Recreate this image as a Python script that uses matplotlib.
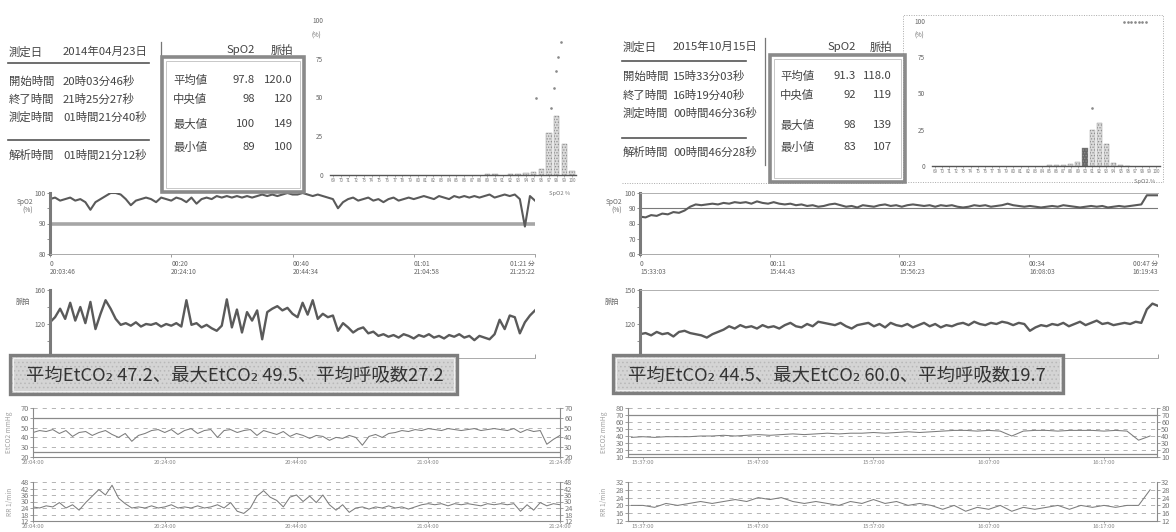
import matplotlib as mpl
import matplotlib.pyplot as plt
import numpy as np
from matplotlib.lines import Line2D
from matplotlib.patches import Rectangle

W, H = 1176, 532
JP = ["Noto Sans CJK JP", "DejaVu Sans"]
INK = "#444444"
TRACE = "#5a5a5a"

# ---- measurement header tables
INFO_LABELS = ["測定日", "開始時間", "終了時間", "測定時間", "解析時間"]
L_INFO_VALUES = ["2014年04月23日", "20時03分46秒", "21時25分27秒", "01時間21分40秒", "01時間21分12秒"]
R_INFO_VALUES = ["2015年10月15日", "15時33分03秒", "16時19分40秒", "00時間46分36秒", "00時間46分28秒"]

STAT_LABELS = ["平均値", "中央値", "最大値", "最小値"]
L_SPO2_STATS = ["97.8", "98", "100", "89"]
L_PULSE_STATS = ["120.0", "120", "149", "100"]
R_SPO2_STATS = ["91.3", "92", "98", "83"]
R_PULSE_STATS = ["118.0", "119", "139", "107"]

# ---- SpO2 distribution (%)
HIST_TICKS = list(range(69, 101))
L_HIST_BIN = [89, 90, 92, 93, 94, 95, 96, 97, 98, 99, 100]
L_HIST_PCT = [0.5, 0.8, 0.5, 0.5, 1.0, 2.0, 4.0, 27.0, 38.0, 20.0, 2.5]
L_CUM_BIN = [95.3, 97.3, 97.6, 97.9, 98.2, 98.6]
L_CUM_PCT = [50, 43, 56, 67, 76, 86]
R_HIST_BIN = [85, 86, 87, 88, 89, 90, 91, 92, 93, 94, 95, 96]
R_HIST_PCT = [0.5, 0.7, 1.0, 1.5, 3.0, 12.5, 25.0, 30.0, 15.5, 2.0, 0.5, 0.3]
R_HIST_DARK = [90]
R_CUM_BIN = [91, 95.5, 96, 96.5, 97, 97.5, 98, 98.5]
R_CUM_PCT = [40, 99, 99, 99, 99, 99, 99, 99]

# ---- SpO2 / pulse trends (elapsed minutes)
L_TREND_END = 81.6
L_TIME_TICKS = [0, 20.4, 40.8, 61.2, 81.6]
L_TIME_ELAPSED = ["0", "00:20", "00:40", "01:01", "01:21 分"]
L_TIME_CLOCK = ["20:03:46", "20:24:10", "20:44:34", "21:04:58", "21:25:22"]
L_SPO2 = [98, 98.5, 97.5, 98, 98.5, 97.5, 98, 97, 94.5, 97,
          98, 99, 100, 100, 99.5, 98, 96, 97.5, 98, 98.5,
          98, 97, 98.5, 98, 97.5, 98.5, 98, 97, 98.5, 96.5,
          98, 98.5, 98, 99, 98.5, 99, 98.5, 99, 98.5, 99,
          98.5, 99, 99.5, 99, 99.5, 99, 99.5, 100, 99.5, 99.5,
          100, 99.5, 99, 99.5, 99, 98.5, 98, 95, 97, 98,
          98.5, 97.5, 98, 98.5, 97.5, 98, 97, 98, 98.5, 97.5,
          98, 98.5, 98, 98.5, 99, 98.5, 98, 99, 98.5, 98,
          99, 98.5, 99, 98.5, 99, 98.5, 99, 99.5, 98.5, 99,
          99.5, 99, 99.5, 98, 89, 99, 97.5]
L_PULSE = [122, 128, 138, 126, 145, 124, 140, 121, 146, 114,
           132, 148, 138, 126, 119, 121, 118, 122, 117, 120,
           119, 121, 117, 120, 118, 121, 117, 148, 119, 121,
           116, 119, 115, 112, 118, 149, 116, 137, 110, 134,
           124, 136, 102, 134, 138, 141, 136, 139, 132, 128,
           145, 131, 148, 126, 132, 128, 130, 112, 121, 116,
           110, 114, 116, 109, 111, 106, 108, 105, 107, 104,
           108, 106, 103, 107, 105, 108, 104, 106, 103, 107,
           105, 108, 104, 106, 101, 106, 104, 102, 108, 125,
           114, 130, 128, 109, 122, 130, 136]

R_TREND_END = 46.6
R_TIME_TICKS = [0, 11.67, 23.33, 35.0, 46.6]
R_TIME_ELAPSED = ["0", "00:11", "00:23", "00:34", "00:47 分"]
R_TIME_CLOCK = ["15:33:03", "15:44:43", "15:56:23", "16:08:03", "16:19:43"]
R_SPO2 = [84.5, 84, 85.5, 85, 86.5, 86, 87.5, 87, 88.5, 91,
          92.5, 92, 92.5, 93, 92.5, 93.5, 93, 94, 93.5, 94,
          93, 94.5, 93.5, 93, 94, 93, 92.5, 93, 92, 92.5,
          91.5, 92, 91, 91.5, 92.5, 93, 92, 91, 91.5, 90.5,
          92, 91.5, 91, 92, 92.5, 91.5, 92, 91, 92, 92.5,
          92, 91.5, 92, 91, 92, 91.5, 92, 91, 90.5, 91,
          92, 91.5, 92, 91, 91.5, 92, 93, 92, 91.5, 91,
          91.5, 91, 90.5, 91, 91.5, 91, 92, 91.5, 91, 90.5,
          91, 91.5, 91, 91.5, 90.5, 91, 91.5, 91, 91.5, 92,
          92.5, 98.5, 98.5, 98.5]
R_PULSE = [111, 112, 110, 113, 111, 112, 109, 113, 114, 112,
           111, 110, 108, 111, 113, 115, 118, 116, 119, 117,
           118, 116, 119, 117, 118, 116, 119, 121, 118, 117,
           120, 118, 122, 121, 120, 119, 121, 118, 116, 119,
           120, 121, 118, 120, 117, 121, 119, 118, 120, 117,
           119, 121, 118, 120, 117, 119, 118, 120, 121, 119,
           122, 120, 119, 121, 120, 122, 121, 119, 121, 120,
           114, 117, 119, 118, 120, 119, 121, 118, 120, 122,
           119, 121, 123, 120, 121, 119, 120, 121, 120, 122,
           121, 133, 138, 136]

# ---- capnography summary and trends (clock minutes past the hour)
L_CO2_TEXT = "平均EtCO₂ 47.2、最大EtCO₂ 49.5、平均呼吸数27.2"
R_CO2_TEXT = "平均EtCO₂ 44.5、最大EtCO₂ 60.0、平均呼吸数19.7"
L_CO2_TICKS = [4, 24, 44, 64, 84]
L_CO2_LABELS = ["20:04:00", "20:24:00", "20:44:00", "21:04:00", "21:24:00"]
L_CO2_START = 4
L_ETCO2 = [45, 47, 46, 48, 44, 47, 41, 45, 46, 42,
           45, 47, 43, 40, 44, 36, 42, 44, 47, 48,
           45, 48, 43, 47, 49, 44, 47, 48, 40, 47,
           48, 45, 47, 48, 42, 47, 45, 43, 46, 41,
           44, 42, 39, 42, 41, 37, 40, 39, 42, 40,
           32, 41, 43, 40, 44, 45, 47, 46, 48, 47,
           49, 48, 47, 49, 48, 47, 48, 49, 47, 48,
           49, 48, 47, 49, 45, 48, 46, 47, 33, 38,
           42]
L_RR = [25, 24, 26, 25, 29, 24, 27, 22, 29, 35,
        41, 36, 45, 33, 28, 24, 25, 24, 26, 24,
        25, 27, 24, 25, 24, 26, 24, 25, 27, 24,
        29, 21, 19, 24, 35, 40, 34, 31, 25, 34,
        36, 30, 35, 29, 36, 27, 22, 27, 20, 24,
        25, 23, 25, 24, 26, 24, 25, 23, 25, 27,
        28, 27, 28, 26, 28, 27, 28, 27, 26, 28,
        27, 28, 27, 28, 21, 27, 22, 29, 26, 28,
        27]

R_CO2_TICKS = [37, 47, 57, 67, 77]
R_CO2_LABELS = ["15:37:00", "15:47:00", "15:57:00", "16:07:00", "16:17:00"]
R_CO2_START = 36
R_ETCO2 = [38, 39, 38, 39, 39, 39, 40, 40, 41, 40,
           41, 42, 41, 42, 43, 42, 43, 44, 43, 44,
           44, 45, 44, 45, 46, 45, 46, 47, 48, 48,
           47, 48, 47, 40, 47, 48, 48, 47, 48, 48,
           48, 47, 48, 47, 34, 40]
R_RR = [20, 20, 19, 21, 20, 21, 22, 21, 22, 23,
        22, 24, 23, 24, 22, 21, 22, 21, 20, 22,
        21, 23, 21, 22, 20, 21, 20, 18, 20, 17,
        19, 18, 20, 17, 19, 18, 19, 20, 18, 20,
        19, 20, 19, 20, 20, 28]


def fx(x):
    return x / W


def fy(y):
    return 1 - y / H


def px_axes(fig, x0, y0, x1, y1):
    return fig.add_axes([fx(x0), fy(y1), (x1 - x0) / W, (y1 - y0) / H])


def ftext(fig, x, y, s, size=8.2, **kw):
    kw.setdefault("color", INK)
    kw.setdefault("va", "center")
    fig.text(fx(x), fy(y), s, fontsize=size, family=JP, **kw)


def fline(fig, x0, x1, y0, y1, **kw):
    fig.add_artist(Line2D([fx(x0), fx(x1)], [fy(y0), fy(y1)], transform=fig.transFigure, **kw))


def frect(fig, x0, y0, x1, y1, **kw):
    fig.add_artist(Rectangle((fx(x0), fy(y1)), (x1 - x0) / W, (y1 - y0) / H,
                             transform=fig.transFigure, **kw))


def draw_info(fig, lay, values):
    for label, value, y in zip(INFO_LABELS, values, lay["rows"]):
        ftext(fig, lay["x_lab"], y, label)
        ftext(fig, lay["x_val"], y, value)
    for y in lay["rules"]:
        fline(fig, lay["rule_x"][0], lay["rule_x"][1], y, y, color="#555555", lw=1.2)
    x, y0, y1 = lay["vline"]
    fline(fig, x, x, y0, y1, color="#777777", lw=0.9)


def draw_stats(fig, lay, spo2, pulse):
    x0, y0, x1, y1 = lay["box"]
    frect(fig, x0, y0, x1, y1, facecolor="none", edgecolor="#8a8a8a", lw=2.6, zorder=5)
    frect(fig, x0 + 4, y0 + 4, x1 - 4, y1 - 4, facecolor="none", edgecolor="#c8c8c8",
          lw=0.7, zorder=5)
    ftext(fig, lay["spo2_x"], lay["head_y"], "SpO2", ha="right")
    ftext(fig, lay["pulse_x"], lay["head_y"], "脈拍", ha="right")
    for label, a, b, y in zip(STAT_LABELS, spo2, pulse, lay["rows"]):
        ftext(fig, lay["x_lab"], y, label)
        ftext(fig, lay["spo2_x"], y, a, ha="right")
        ftext(fig, lay["pulse_x"], y, b, ha="right")


def draw_hist(ax, bins, pct, dark, cum_x, cum_y):
    colors = ["#666666" if b in dark else "#dcdcdc" for b in bins]
    ax.bar(bins, pct, width=0.72, color=colors, edgecolor="#8e8e8e", hatch="......", lw=0.3)
    ax.plot(cum_x, cum_y, ls="none", marker="o", ms=0.9, color="#8a8a8a")
    ax.set_xlim(68.6, 100.5)
    ax.set_ylim(0, 100)
    ax.set_xticks(HIST_TICKS)
    ax.set_xticklabels([str(t) for t in HIST_TICKS], fontsize=3.2, color="#666666")
    ax.set_yticks([0, 25, 50, 75, 100])
    ax.set_yticklabels(["0", "25", "50", "75", "100"], fontsize=4.6, color="#666666")
    ax.tick_params(axis="x", length=1.2, width=0.4, pad=0.8, colors="#777777")
    ax.tick_params(axis="y", length=0, pad=5)
    ax.text(-0.035, 0.9, "(%)", transform=ax.transAxes, ha="right", va="center",
            fontsize=4.4, color="#666666")
    for side in ["top", "right", "left"]:
        ax.spines[side].set_visible(False)
    ax.spines["bottom"].set_color("#555555")
    ax.spines["bottom"].set_linewidth(1.0)
    ax.set_facecolor("none")


def style_trend(ax, lo, hi, major, minor, ticks, end, top):
    ax.set_ylim(lo, hi)
    ax.set_xlim(0, end)
    ax.set_yticks(major)
    ax.set_yticks(minor, minor=True)
    ax.set_xticks(ticks)
    ax.tick_params(axis="y", which="both", length=2, width=0.5, labelsize=4.8,
                   colors="#666666", pad=1)
    ax.tick_params(axis="x", length=2.5, width=0.5, direction="out", colors="#777777")
    ax.spines["left"].set_linewidth(2.2)
    ax.spines["left"].set_color("#7a7a7a")
    ax.spines["bottom"].set_linestyle((0, (1, 1)))
    ax.spines["bottom"].set_color("#aaaaaa")
    ax.spines["bottom"].set_linewidth(0.7)
    ax.spines["right"].set_visible(False)
    if top:
        ax.spines["top"].set_linestyle((0, (1, 1)))
        ax.spines["top"].set_color("#b0b0b0")
        ax.spines["top"].set_linewidth(0.7)
    else:
        ax.spines["top"].set_visible(False)
    ax.set_facecolor("none")


def draw_spo2(ax, values, lay, elapsed, clock):
    t = np.linspace(0, lay["end"], len(values))
    ax.axhline(90, color=lay["line_c"], lw=lay["line_w"], zorder=1)
    ax.plot(t, values, color=TRACE, lw=1.5, zorder=2)
    style_trend(ax, lay["lo"], lay["hi"], lay["major"], lay["minor"], lay["ticks"],
                lay["end"], lay["top"])
    ax.set_xticklabels([f"{a}\n{b}" for a, b in zip(elapsed, clock)], fontsize=4.8,
                       color="#666666", family=JP, linespacing=1.15)
    labels = ax.get_xticklabels()
    for lbl in labels[:-1]:
        lbl.set_ha("left")
    labels[-1].set_ha("right")
    ax.tick_params(axis="x", pad=1.5)
    ax.text(-0.035, 0.78, "SpO2\n(%)", transform=ax.transAxes, ha="right", va="center",
            fontsize=4.8, color="#666666", linespacing=1.1)


def draw_pulse(ax, values, lay):
    t = np.linspace(0, lay["end"], len(values))
    ax.plot(t, values, color=TRACE, lw=1.7)
    style_trend(ax, lay["plo"], lay["phi"], lay["pmajor"], lay["pminor"], lay["ticks"],
                lay["end"], lay["top"])
    ax.set_xticklabels([])
    ax.tick_params(axis="x", direction="in", length=3)
    ax.text(-0.04, 0.82, "脈拍", transform=ax.transAxes, ha="right", va="center",
            fontsize=5.2, color="#666666", family=JP)


def draw_capno(ax, start, values, lo, hi, step, solid, ticks, labels, xlim, ylabel):
    t = np.arange(start, start + len(values))
    for y in range(lo, hi + 1, step):
        ax.axhline(y, color="#a8a8a8", lw=0.6, dashes=(5, 6), zorder=1)
    for y in solid:
        ax.axhline(y, color="#8a8a8a", lw=0.9, zorder=1)
    ax.plot(t, values, color="#7c7c7c", lw=0.75, zorder=2)
    ax.set_ylim(lo, hi)
    ax.set_xlim(*xlim)
    ax.set_yticks(list(range(lo, hi + 1, step)))
    ax.set_xticks(ticks)
    ax.set_xticklabels(labels, fontsize=4.2, color="#777777")
    ax.tick_params(axis="y", which="both", length=2, width=0.5, labelsize=5.4,
                   colors="#777777", pad=1, left=True, right=True, labelright=True)
    ax.tick_params(axis="x", length=1.5, width=0.5, pad=0.8, colors="#888888")
    for side in ["left", "right", "bottom"]:
        ax.spines[side].set_color("#8a8a8a")
        ax.spines[side].set_linewidth(0.8)
    ax.spines["top"].set_visible(False)
    ax.set_ylabel(ylabel, fontsize=4.8, color="#a0a0a0", labelpad=5)
    ax.set_facecolor("none")


def draw_banner(fig, box, text_x, text):
    x0, y0, x1, y1 = box
    frect(fig, x0, y0, x1, y1, facecolor="#d4d4d4", edgecolor="#b8b8b8", hatch="....",
          lw=0)
    frect(fig, x0, y0, x1, y1, facecolor="none", edgecolor="#7e7e7e", lw=2.4)
    frect(fig, x0 + 3, y0 + 3, x1 - 3, y1 - 3, facecolor="none", edgecolor="#f0f0f0", lw=0.8)
    ftext(fig, text_x, (y0 + y1) / 2 + 1, text, size=13.2, color="#333333")


LEFT = {
    "info": {"x_lab": 9, "x_val": 63, "rows": [52, 81, 99, 117, 155], "rules": [63, 140],
             "rule_x": (8, 149), "vline": (161, 42, 190)},
    "stats": {"box": (162, 57, 304, 192), "head_y": 50, "spo2_x": 255, "pulse_x": 293,
              "x_lab": 173, "rows": [80, 99, 124, 147]},
    "hist": (330, 20, 576, 175),
    "hist_xlabel": (560, 194),
    "spo2_ax": (50, 193, 535, 254),
    "pulse_ax": (50, 290, 535, 358),
    "trend": {"end": L_TREND_END, "lo": 80, "hi": 100, "major": [80, 90, 100],
              "minor": [85, 95], "ticks": L_TIME_TICKS, "line_c": "#a6a6a6", "line_w": 2.6,
              "top": False, "plo": 80, "phi": 160, "pmajor": [80, 120, 160],
              "pminor": [100, 140]},
    "banner": (10, 355, 457, 394), "banner_x": 26,
    "co2_ax": (33, 408, 560, 457),
    "rr_ax": (33, 482, 560, 521),
}

RIGHT = {
    "info": {"x_lab": 623, "x_val": 673, "rows": [47, 76, 95, 113, 152], "rules": [61, 138],
             "rule_x": (622, 746), "vline": (765, 38, 165)},
    "stats": {"box": (770, 55, 905, 182), "head_y": 47, "spo2_x": 856, "pulse_x": 892,
              "x_lab": 780, "rows": [76, 95, 125, 147]},
    "hist": (932, 21, 1160, 166),
    "hist_xlabel": (1145, 182),
    "spo2_ax": (640, 193, 1158, 254),
    "pulse_ax": (640, 290, 1158, 358),
    "trend": {"end": R_TREND_END, "lo": 60, "hi": 100, "major": [60, 70, 80, 90, 100],
              "minor": [], "ticks": R_TIME_TICKS, "line_c": "#7a7a7a", "line_w": 0.8,
              "top": True, "plo": 90, "phi": 150, "pmajor": [90, 120, 150],
              "pminor": [105, 135]},
    "banner": (613, 355, 1063, 393), "banner_x": 628,
    "co2_ax": (628, 408, 1157, 457),
    "rr_ax": (628, 482, 1157, 521),
}


def main():
    mpl.rcParams.update({"font.family": JP, "axes.linewidth": 0.6, "hatch.linewidth": 0.6})
    fig = plt.figure(figsize=(W / 100, H / 100), dpi=100, facecolor="white")

    # left report (2014)
    draw_info(fig, LEFT["info"], L_INFO_VALUES)
    draw_hist(px_axes(fig, *LEFT["hist"]), L_HIST_BIN, L_HIST_PCT, [], L_CUM_BIN, L_CUM_PCT)
    ftext(fig, *LEFT["hist_xlabel"], "SpO2 %", size=4.2, color="#777777", ha="center")
    draw_spo2(px_axes(fig, *LEFT["spo2_ax"]), L_SPO2, LEFT["trend"], L_TIME_ELAPSED,
              L_TIME_CLOCK)
    draw_pulse(px_axes(fig, *LEFT["pulse_ax"]), L_PULSE, LEFT["trend"])
    draw_stats(fig, LEFT["stats"], L_SPO2_STATS, L_PULSE_STATS)
    draw_banner(fig, LEFT["banner"], LEFT["banner_x"], L_CO2_TEXT)
    draw_capno(px_axes(fig, *LEFT["co2_ax"]), L_CO2_START, L_ETCO2, 20, 70, 10, [60, 25],
               L_CO2_TICKS, L_CO2_LABELS, (4, 84), "EtCO2 mmHg")
    draw_capno(px_axes(fig, *LEFT["rr_ax"]), L_CO2_START, L_RR, 12, 48, 6, [],
               L_CO2_TICKS, L_CO2_LABELS, (4, 84), "RR 1/min")

    # right report (2015)
    draw_info(fig, RIGHT["info"], R_INFO_VALUES)
    frect(fig, 903, 15, 1163, 182, facecolor="none", edgecolor="#aaaaaa", lw=0.7,
          linestyle=(0, (1, 1.5)))
    fline(fig, 622, 903, 183, 183, color="#aaaaaa", lw=0.7, linestyle=(0, (1, 1.5)))
    draw_hist(px_axes(fig, *RIGHT["hist"]), R_HIST_BIN, R_HIST_PCT, R_HIST_DARK,
              R_CUM_BIN, R_CUM_PCT)
    ftext(fig, *RIGHT["hist_xlabel"], "SpO2 %", size=4.2, color="#777777", ha="center")
    draw_spo2(px_axes(fig, *RIGHT["spo2_ax"]), R_SPO2, RIGHT["trend"], R_TIME_ELAPSED,
              R_TIME_CLOCK)
    draw_pulse(px_axes(fig, *RIGHT["pulse_ax"]), R_PULSE, RIGHT["trend"])
    draw_stats(fig, RIGHT["stats"], R_SPO2_STATS, R_PULSE_STATS)
    draw_banner(fig, RIGHT["banner"], RIGHT["banner_x"], R_CO2_TEXT)
    draw_capno(px_axes(fig, *RIGHT["co2_ax"]), R_CO2_START, R_ETCO2, 10, 80, 10, [70, 15],
               R_CO2_TICKS, R_CO2_LABELS, (35.7, 81.6), "EtCO2 mmHg")
    draw_capno(px_axes(fig, *RIGHT["rr_ax"]), R_CO2_START, R_RR, 12, 32, 4, [],
               R_CO2_TICKS, R_CO2_LABELS, (35.7, 81.6), "RR 1/min")

    fig.savefig("out.png", dpi=100, facecolor="white")


if __name__ == "__main__":
    main()
